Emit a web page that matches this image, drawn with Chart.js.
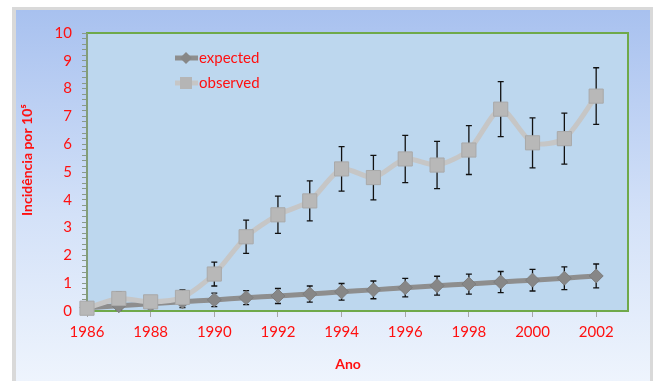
<!DOCTYPE html>
<html>
<head>
<meta charset="utf-8">
<script src="https://cdn.jsdelivr.net/npm/chart.js@4.4.0/dist/chart.umd.min.js"></script>
<style>
  html, body { margin: 0; padding: 0; background: #ffffff; }
  #wrap { width: 656px; height: 381px; }
</style>
</head>
<body>
<div id="wrap"><canvas id="incChart" width="656" height="381"></canvas></div>
<script>
// Data
const years = [1986, 1987, 1988, 1989, 1990, 1991, 1992, 1993, 1994, 1995, 1996, 1997, 1998, 1999, 2000, 2001, 2002];
const expected = [0.12, 0.19, 0.26, 0.33, 0.40, 0.48, 0.54, 0.61, 0.69, 0.76, 0.84, 0.91, 0.97, 1.04, 1.11, 1.18, 1.26];
const expectedErr = [0.12, 0.15, 0.18, 0.21, 0.24, 0.25, 0.27, 0.29, 0.30, 0.32, 0.33, 0.34, 0.36, 0.38, 0.39, 0.41, 0.43];
const observed = [0.10, 0.45, 0.33, 0.49, 1.33, 2.67, 3.46, 3.96, 5.11, 4.80, 5.47, 5.25, 5.79, 7.26, 6.05, 6.20, 7.73];
const observedErr = [0.10, 0.25, 0.20, 0.27, 0.43, 0.60, 0.67, 0.72, 0.80, 0.80, 0.85, 0.85, 0.88, 0.99, 0.90, 0.92, 1.02];
const yTicks = [0, 1, 2, 3, 4, 5, 6, 7, 8, 9, 10];

const RED = '#ff1010';
const FONT = 'Lato, "Open Sans", sans-serif';

function toPoints(vals) {
  return years.map((y, i) => ({ x: y, y: vals[i] }));
}

// Frame, gradient background and plot area fill
const backdrop = {
  id: 'backdrop',
  beforeDraw(chart) {
    const { ctx, chartArea } = chart;
    ctx.save();
    ctx.fillStyle = '#ffffff';
    ctx.fillRect(0, 0, chart.width, chart.height);
    ctx.fillStyle = '#d9d9d9';
    ctx.fillRect(12, 7, 641, 380);
    const g = ctx.createLinearGradient(0, 10, 0, 381);
    g.addColorStop(0, '#a8c1ef');
    g.addColorStop(0.55, '#d3e1f8');
    g.addColorStop(1, '#eef4fd');
    ctx.fillStyle = g;
    ctx.fillRect(16, 10, 634, 375);
    ctx.fillStyle = '#bdd7ee';
    ctx.fillRect(chartArea.left, chartArea.top, chartArea.right - chartArea.left, chartArea.bottom - chartArea.top);
    ctx.restore();
  },
  beforeDatasetsDraw(chart) {
    const { ctx, chartArea } = chart;
    ctx.save();
    ctx.strokeStyle = '#6fa94a';
    ctx.lineWidth = 2;
    ctx.strokeRect(chartArea.left, chartArea.top, chartArea.right - chartArea.left, chartArea.bottom - chartArea.top);
    ctx.strokeStyle = '#8a9a8a';
    ctx.lineWidth = 1.5;
    ctx.beginPath();
    ctx.moveTo(chartArea.left, chartArea.top);
    ctx.lineTo(chartArea.left, chartArea.bottom);
    ctx.stroke();
    ctx.restore();
  }
};

// Error bars, drawn from the data through the scales
const errorBars = {
  id: 'errorBars',
  beforeDatasetsDraw(chart) {
    const { ctx } = chart;
    const xs = chart.scales.x, ys = chart.scales.y;
    ctx.save();
    ctx.strokeStyle = '#111111';
    ctx.lineWidth = 1.3;
    const sets = [[expected, expectedErr], [observed, observedErr]];
    sets.forEach(([vals, errs]) => {
      years.forEach((yr, i) => {
        const px = xs.getPixelForValue(yr);
        const top = ys.getPixelForValue(vals[i] + errs[i]);
        const bot = ys.getPixelForValue(Math.max(0, vals[i] - errs[i]));
        ctx.beginPath();
        ctx.moveTo(px, top); ctx.lineTo(px, bot);
        ctx.moveTo(px - 3, top); ctx.lineTo(px + 3, top);
        ctx.moveTo(px - 3, bot); ctx.lineTo(px + 3, bot);
        ctx.stroke();
      });
    });
    ctx.restore();
  }
};

// Legend inside the plot area, axis titles
const labels = {
  id: 'labels',
  afterDraw(chart) {
    const { ctx } = chart;
    ctx.save();
    const items = [
      { text: 'expected', y: 58, line: '#8e8e8e', fill: '#878787', style: 'diamond' },
      { text: 'observed', y: 83, line: '#c6c6c6', fill: '#b5b5b5', style: 'square' }
    ];
    items.forEach(it => {
      ctx.strokeStyle = it.line;
      ctx.lineWidth = 5;
      ctx.beginPath();
      ctx.moveTo(175, it.y); ctx.lineTo(198, it.y);
      ctx.stroke();
      ctx.fillStyle = it.fill;
      ctx.beginPath();
      if (it.style === 'diamond') {
        ctx.moveTo(186, it.y - 6); ctx.lineTo(192, it.y); ctx.lineTo(186, it.y + 6); ctx.lineTo(180, it.y);
      } else {
        ctx.rect(180, it.y - 6, 12, 12);
      }
      ctx.closePath();
      ctx.fill();
      ctx.fillStyle = RED;
      ctx.font = '15px ' + FONT;
      ctx.textAlign = 'left';
      ctx.textBaseline = 'middle';
      ctx.fillText(it.text, 199, it.y);
    });

    ctx.fillStyle = RED;
    ctx.font = 'bold 14px ' + FONT;
    ctx.textAlign = 'center';
    ctx.textBaseline = 'middle';
    ctx.fillText('Ano', 348, 364);

    ctx.translate(27, 160);
    ctx.rotate(-Math.PI / 2);
    ctx.fillText('Incidência por 10⁵', 0, 0);
    ctx.restore();
  }
};

const ctx = document.getElementById('incChart').getContext('2d');
new Chart(ctx, {
  type: 'line',
  data: {
    datasets: [
      {
        label: 'observed',
        data: toPoints(observed),
        order: 0,
        clip: false,
        borderColor: '#c6c6c6',
        borderWidth: 5,
        tension: 0.25,
        pointStyle: 'rect',
        pointRadius: 10,
        pointBackgroundColor: '#b8b8b8',
        pointBorderColor: '#a9a9a9',
        pointBorderWidth: 1
      },
      {
        label: 'expected',
        data: toPoints(expected),
        order: 1,
        clip: false,
        borderColor: '#8e8e8e',
        borderWidth: 5,
        tension: 0.2,
        pointStyle: 'rectRot',
        pointRadius: 7,
        pointBackgroundColor: '#878787',
        pointBorderColor: '#7d7d7d',
        pointBorderWidth: 1
      }
    ]
  },
  options: {
    responsive: false,
    animation: false,
    layout: { padding: { left: 16, top: 33, right: 28, bottom: 0 } },
    plugins: { legend: { display: false }, tooltip: { enabled: false } },
    scales: {
      x: {
        type: 'linear',
        min: 1986,
        max: 2003,
        afterFit: s => { s.height = 70; },
        afterBuildTicks: s => { s.ticks = years.filter(y => y % 2 === 0).map(v => ({ value: v })); },
        grid: { drawOnChartArea: false, tickLength: 6, color: '#a6a6a6' },
        border: { display: false },
        ticks: {
          color: RED,
          font: { family: FONT, size: 15 },
          padding: 6,
          maxRotation: 0,
          callback: v => String(v)
        }
      },
      y: {
        min: 0,
        max: 10,
        afterFit: s => { s.width = 71; },
        afterBuildTicks: s => {
          const t = [];
          for (let i = 0; i <= 50; i++) t.push({ value: i / 5 });
          s.ticks = t;
        },
        grid: { drawOnChartArea: false, tickLength: 5, color: '#8a9a8a' },
        border: { display: false },
        ticks: {
          color: RED,
          font: { family: FONT, size: 15 },
          padding: 10,
          autoSkip: false,
          callback: v => (yTicks.includes(Math.round(v)) && Math.abs(v - Math.round(v)) < 1e-6) ? String(Math.round(v)) : ''
        }
      }
    }
  },
  plugins: [backdrop, errorBars, labels]
});
</script>
</body>
</html>
